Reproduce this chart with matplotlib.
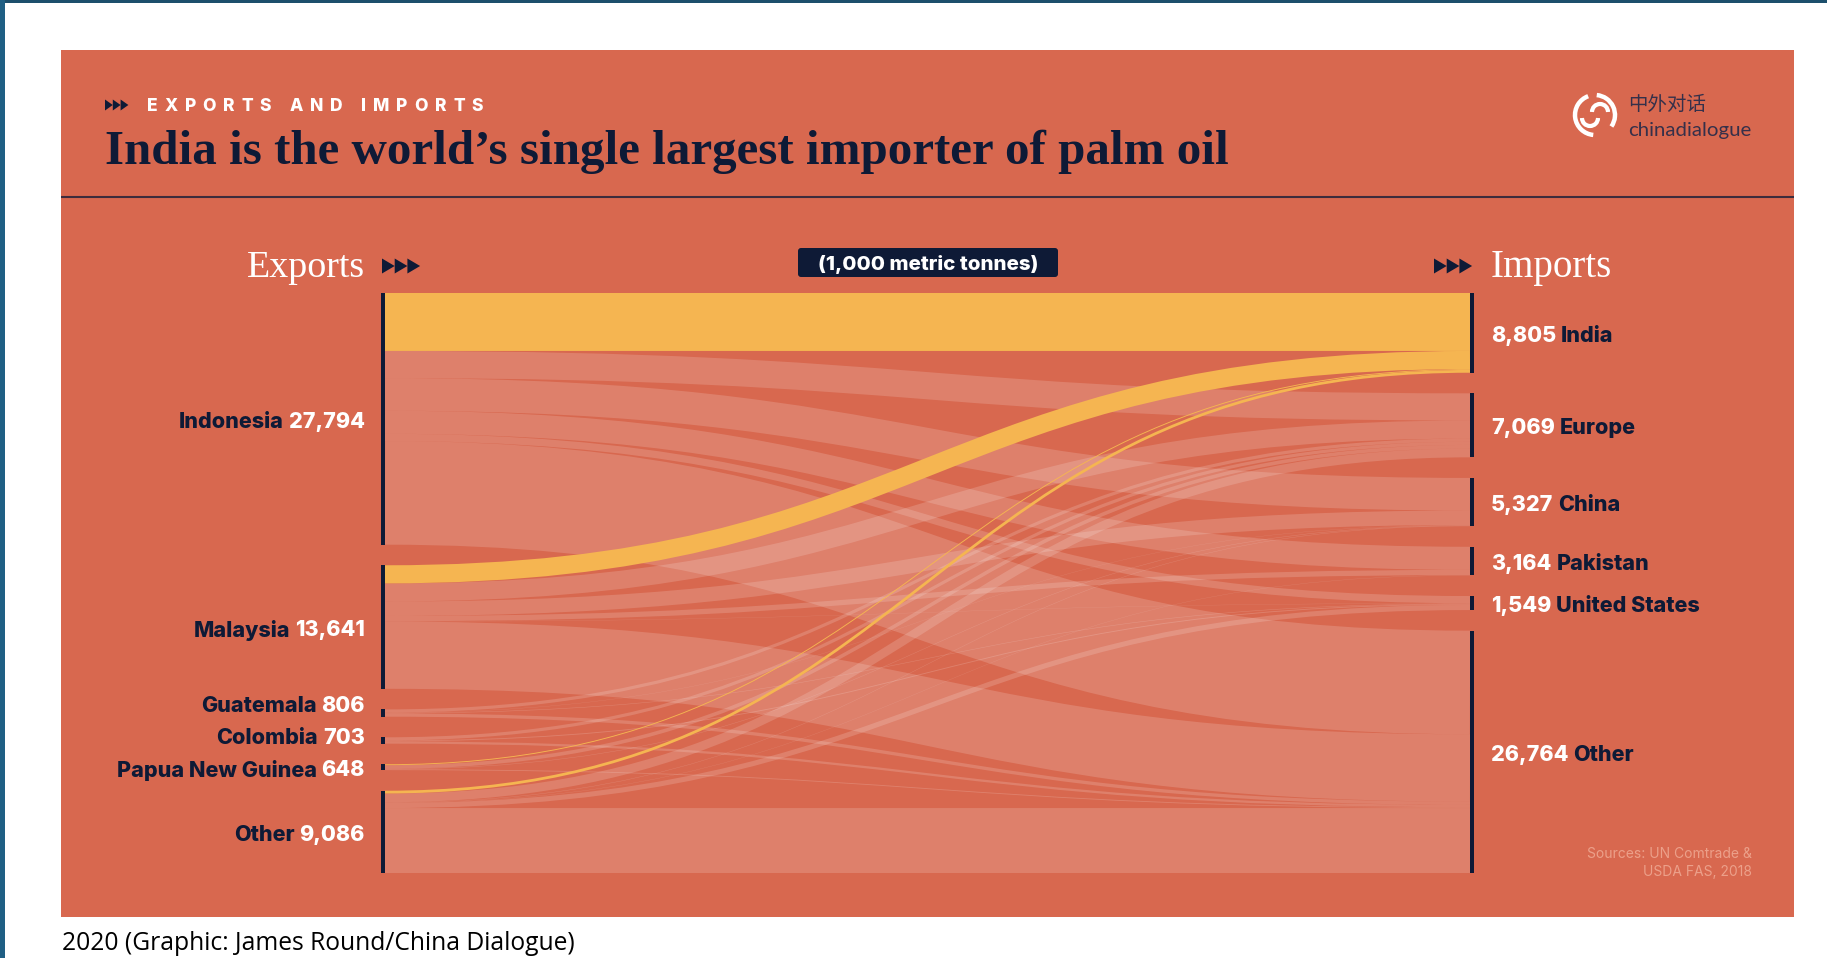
import numpy as np
import matplotlib
matplotlib.use("Agg")
import matplotlib.pyplot as plt
from matplotlib.path import Path
from matplotlib.patches import PathPatch, Rectangle, Polygon, FancyBboxPatch, Arc

# ---------------- data (1,000 metric tonnes) ----------------
exporters = ["Indonesia", "Malaysia", "Guatemala", "Colombia", "Papua New Guinea", "Other"]
export_totals = [27794, 13641, 806, 703, 648, 9086]
importers = ["India", "Europe", "China", "Pakistan", "United States", "Other"]
import_totals = [8805, 7069, 5327, 3164, 1549, 26764]
# rows = exporters, columns = importers (estimated from the ribbons)
flow_indonesia = [6400, 3000, 3600, 2550, 800, 11444]
flow_malaysia = [2000, 2000, 1600, 580, 30, 7431]
flow_guatemala = [0, 350, 30, 0, 60, 366]
flow_colombia = [0, 350, 0, 0, 100, 253]
flow_png = [100, 400, 50, 0, 0, 98]
flow_other = [305, 969, 47, 34, 559, 7172]
flows = [flow_indonesia, flow_malaysia, flow_guatemala, flow_colombia, flow_png, flow_other]
highlight = "India"

# ---------------- style ----------------
W, H, DPI = 1827, 958, 100
BG = "#d8684f"
NAVY = "#0e1a36"
YELLOW = "#f5b551"
RIBBON = (1, 1, 1, 0.16)
LABEL_FONT = "Inter"

fig = plt.figure(figsize=(W / DPI, H / DPI), dpi=DPI)
fig.patch.set_facecolor("white")
ax = fig.add_axes([0, 0, 1, 1])
ax.set_xlim(0, W)
ax.set_ylim(H, 0)
ax.axis("off")
renderer = fig.canvas.get_renderer()


def twidth(t):
    return t.get_window_extent(renderer=renderer).width


def fit(t, target):
    t.set_fontsize(t.get_fontsize() * target / twidth(t))
    return t


def arrows(x, yc, w, h, n=3, color=NAVY):
    for i in range(n):
        x0 = x + i * w
        ax.add_patch(Polygon([(x0, yc - h / 2), (x0 + w, yc), (x0, yc + h / 2)],
                             closed=True, facecolor=color, edgecolor="none"))


# frame
ax.add_patch(Rectangle((0, 0), W, 3, color="#1d4f6c", lw=0))
ax.add_patch(Rectangle((0, 0), 5, H, color="#1f5f84", lw=0))
ax.add_patch(Rectangle((61, 50), 1733, 867, color=BG, lw=0))
ax.plot([61, 1794], [197, 197], color="#3d2c3c", lw=1.5, solid_capstyle="butt")

# header
arrows(105, 105, 7.8, 11)
hdr = "EXPORTS AND IMPORTS"
HS = 12.5
chars = []
for ch in hdr:
    t = ax.text(0, 106, ch if ch != " " else "", color="white", fontsize=HS,
                family=LABEL_FONT, weight=800, va="center", ha="left")
    chars.append(t)
em = HS * DPI / 72
widths = [twidth(t) if ch != " " else 0.28 * em for t, ch in zip(chars, hdr)]
track = (483 - 147 - sum(widths)) / (len(hdr) - 1)
x = 147
for t, w in zip(chars, widths):
    t.set_x(x)
    x += w + track

title = ax.text(105, 152, "India is the world\u2019s single largest importer of palm oil",
                color=NAVY, fontsize=28, family="Liberation Serif", weight="bold",
                va="center", ha="left")
fit(title, 1122)

# logo
lc = (1595, 115)
ax.add_patch(Arc(lc, 40, 40, theta1=95, theta2=250, color="white", lw=3.2))
ax.add_patch(Arc((1600, 112), 16, 16, theta1=180, theta2=360, color="white", lw=3.0))
ax.add_patch(Arc(lc, 40, 40, theta1=-85, theta2=35, color="white", lw=3.2))
ax.add_patch(Arc((1590, 118), 16, 16, theta1=0, theta2=180, color="white", lw=3.0))
ax.text(1628, 104, "中外对话", color="#35304a", fontsize=14,
        family=["Noto Sans CJK SC", "DejaVu Sans"], va="center", ha="left")
logo = ax.text(1628, 130, "chinadialogue", color="#35304a", fontsize=14,
               family="Lato", va="center", ha="left")
fit(logo, 124)

# column headers
ex = ax.text(365, 268, "Exports", color="white", fontsize=22, family="Liberation Serif",
             va="center", ha="right")
fit(ex, 118)
arrows(382, 266, 12.7, 15)
im = ax.text(1491, 268, "Imports", color="white", fontsize=22, family="Liberation Serif",
             va="center", ha="left")
fit(im, 121)
arrows(1434, 266, 12.7, 15)

ax.add_patch(FancyBboxPatch((798, 248), 260, 29, boxstyle="round,pad=0,rounding_size=3",
                            facecolor=NAVY, edgecolor="none"))
unit = ax.text(928, 264, "(1,000 metric tonnes)", color="white", fontsize=13,
               family=LABEL_FONT, weight=800, va="center", ha="center")
fit(unit, 221)

# ---------------- sankey ----------------
top, bottom, gap = 293, 873, 20.6
xl_bar, xr_bar = 381, 1470
x0, x1 = 385, 1470
k = (bottom - top - gap * (len(exporters) - 1)) / sum(export_totals)

left_y, y = [], top
for v in export_totals:
    left_y.append(y)
    y += v * k + gap
right_y, y = [], top
for v in import_totals:
    right_y.append(y)
    y += v * k + gap

src_off = list(left_y)
tgt_off = list(right_y)
links = []
for i in range(len(exporters)):
    for j in range(len(importers)):
        v = flows[i][j]
        w = v * k
        ys = src_off[i] + w / 2
        src_off[i] += w
        links.append([i, j, v, w, ys, None])
for j in range(len(importers)):
    for L in links:
        if L[1] == j:
            L[5] = tgt_off[j] + L[3] / 2
            tgt_off[j] += L[3]

xm = (x0 + x1) / 2


def draw_link(L, color, z):
    i, j, v, w, ys, yt = L
    if v <= 0:
        return
    p = Path([(x0, ys), (xm, ys), (xm, yt), (x1, yt)],
             [Path.MOVETO, Path.CURVE4, Path.CURVE4, Path.CURVE4])
    ax.add_patch(PathPatch(p, facecolor="none", edgecolor=color,
                           lw=w * 72 / DPI, capstyle="butt", zorder=z))


for L in links:
    if importers[L[1]] != highlight:
        draw_link(L, RIBBON, 2)
for L in links:
    if importers[L[1]] == highlight:
        draw_link(L, YELLOW, 3)

# node bars
for yy, v in zip(left_y, export_totals):
    ax.add_patch(Rectangle((xl_bar, yy), 4, v * k, color=NAVY, lw=0, zorder=4))
for yy, v in zip(right_y, import_totals):
    ax.add_patch(Rectangle((xr_bar, yy), 4, v * k, color=NAVY, lw=0, zorder=4))

# labels (left, with a small vertical spread for the tiny nodes)
centers = [yy + v * k / 2 for yy, v in zip(left_y, export_totals)]
lab_y = list(centers)
for n in range(len(lab_y) - 3, 0, -1):
    lab_y[n] = min(lab_y[n], lab_y[n + 1] - 32)
LS = 15.5
DY = 3
for name, v, yy in zip(exporters, export_totals, lab_y):
    num = ax.text(365, yy + DY, f"{v:,}", color="white", fontsize=LS, family=LABEL_FONT,
                  weight=800, va="center", ha="right")
    ax.text(365 - twidth(num) - 5, yy + DY, name, color=NAVY, fontsize=LS,
            family=LABEL_FONT, weight=800, va="center", ha="right")
for name, v, yy in zip(importers, import_totals, right_y):
    yc = yy + v * k / 2 + DY
    num = ax.text(1491, yc, f"{v:,}", color="white", fontsize=LS, family=LABEL_FONT,
                  weight=800, va="center", ha="left")
    ax.text(1491 + twidth(num) + 5, yc, name, color=NAVY, fontsize=LS, family=LABEL_FONT,
            weight=800, va="center", ha="left")

# sources & caption
ax.text(1752, 854, "Sources: UN Comtrade &", color="#eca08a", fontsize=10,
        family=LABEL_FONT, va="center", ha="right")
ax.text(1752, 872, "USDA FAS, 2018", color="#eca08a", fontsize=10,
        family=LABEL_FONT, va="center", ha="right")
cap = ax.text(62, 943, "2020 (Graphic: James Round/China Dialogue)", color="black",
              fontsize=17, family="Open Sans", va="center", ha="left")
fit(cap, 513)

fig.savefig("out.png", dpi=DPI, facecolor=fig.get_facecolor())
